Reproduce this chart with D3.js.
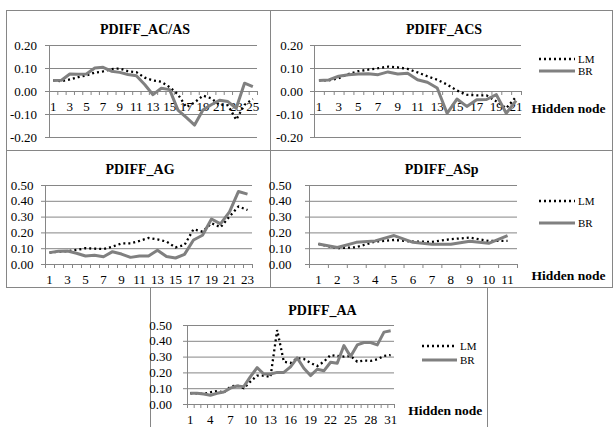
<!DOCTYPE html>
<html>
<head>
<meta charset="utf-8">
<script src="https://cdn.jsdelivr.net/npm/d3@7"></script>
<style>
  body { margin: 0; background: #fff; }
  svg { display: block; }
  text { font-family: "Liberation Serif", "Times New Roman", serif; }
</style>
</head>
<body>
<svg id="chart" width="613" height="427"></svg>
<script>
// ---- data ----
const seriesNames = ["LM", "BR"];

const nodesACAS = [1,2,3,4,5,6,7,8,9,10,11,12,13,14,15,16,17,18,19,20,21,22,23,24,25];
const labelsACAS = [1,3,5,7,9,11,13,15,17,19,21,23,25];
const lmACAS = [0.046,0.043,0.050,0.060,0.068,0.080,0.085,0.095,0.098,0.086,0.082,0.058,0.046,0.040,0.017,-0.015,-0.070,-0.050,-0.020,-0.032,-0.060,-0.062,-0.125,-0.060,-0.035];
const brACAS = [0.046,0.047,0.074,0.073,0.074,0.100,0.103,0.086,0.081,0.072,0.066,0.028,-0.016,0.012,0.006,-0.083,-0.115,-0.148,-0.083,-0.060,-0.040,-0.046,-0.075,0.034,0.019];

const nodesACS = [1,2,3,4,5,6,7,8,9,10,11,12,13,14,15,16,17,18,19,20,21];
const labelsACS = [1,3,5,7,9,11,13,15,17,19,21];
const lmACS = [0.046,0.046,0.055,0.074,0.086,0.093,0.099,0.106,0.103,0.096,0.081,0.064,0.049,0.028,0.002,-0.016,-0.019,-0.019,-0.045,-0.075,-0.025];
const brACS = [0.046,0.048,0.064,0.071,0.074,0.075,0.071,0.083,0.074,0.077,0.049,0.038,0.013,-0.097,-0.035,-0.067,-0.038,-0.037,-0.016,-0.097,-0.042];

const nodesAG = [1,2,3,4,5,6,7,8,9,10,11,12,13,14,15,16,17,18,19,20,21,22,23];
const labelsAG = [1,3,5,7,9,11,13,15,17,19,21,23];
const lmAG = [0.072,0.078,0.082,0.089,0.100,0.097,0.095,0.110,0.130,0.130,0.146,0.165,0.156,0.142,0.105,0.120,0.220,0.205,0.258,0.233,0.300,0.364,0.342];
const brAG = [0.072,0.080,0.082,0.068,0.051,0.055,0.046,0.078,0.063,0.042,0.051,0.051,0.087,0.047,0.038,0.061,0.152,0.182,0.285,0.254,0.330,0.459,0.442];

const nodesASp = [1,2,3,4,5,6,7,8,9,10,11];
const labelsASp = [1,2,3,4,5,6,7,8,9,10,11];
const lmASp = [0.127,0.100,0.106,0.142,0.152,0.142,0.140,0.157,0.167,0.146,0.146];
const brASp = [0.127,0.104,0.137,0.146,0.180,0.137,0.125,0.125,0.144,0.131,0.180];

const nodesAA = [1,2,3,4,5,6,7,8,9,10,11,12,13,14,15,16,17,18,19,20,21,22,23,24,25,26,27,28,29,30,31];
const labelsAA = [1,4,7,10,13,16,19,22,25,28,31];
const lmAA = [0.068,0.068,0.063,0.074,0.082,0.072,0.110,0.118,0.100,0.142,0.180,0.180,0.170,0.468,0.268,0.260,0.290,0.285,0.260,0.240,0.268,0.310,0.304,0.300,0.304,0.268,0.275,0.273,0.283,0.304,0.310];
const brAA = [0.068,0.068,0.063,0.055,0.068,0.076,0.100,0.114,0.110,0.173,0.230,0.190,0.190,0.200,0.200,0.235,0.292,0.226,0.180,0.220,0.210,0.264,0.258,0.370,0.300,0.374,0.389,0.389,0.374,0.455,0.463];

const yTicksSigned = [-0.2,-0.1,0,0.1,0.2];
const yTicksPositive = [0,0.1,0.2,0.3,0.4,0.5];
const axisTitle = "Hidden node";

// ---- layout ----
const panels = [
  { title: "PDIFF_AC/AS", nodes: nodesACAS, labels: labelsACAS, lm: lmACAS, br: brACAS, yTicks: yTicksSigned,
    box: [6, 10, 270, 150], plot: [49, 45, 257, 137], titleAt: [145, 29.3], yPad: 8 },
  { title: "PDIFF_ACS", nodes: nodesACS, labels: labelsACS, lm: lmACS, br: brACS, yTicks: yTicksSigned,
    box: [270, 10, 612, 150], plot: [314, 45, 521, 137], titleAt: [444, 29.3], yPad: 7,
    legend: { x0: 539, x1: 575, tx: 578, yLM: 59, yBR: 71 }, hidden: [531.5, 108.3] },
  { title: "PDIFF_AG", nodes: nodesAG, labels: labelsAG, lm: lmAG, br: brAG, yTicks: yTicksPositive,
    box: [6, 150, 270, 287], plot: [45, 185, 252, 264], titleAt: [140, 169], yPad: 7.5 },
  { title: "PDIFF_ASp", nodes: nodesASp, labels: labelsASp, lm: lmASp, br: brASp, yTicks: yTicksPositive,
    box: [270, 150, 612, 287], plot: [309, 185, 517, 264], titleAt: [441.7, 169], yPad: 13.5,
    legend: { x0: 539, x1: 575, tx: 578, yLM: 201, yBR: 223 }, hidden: [531.5, 275] },
  { title: "PDIFF_AA", nodes: nodesAA, labels: labelsAA, lm: lmAA, br: brAA, yTicks: yTicksPositive,
    box: [150, 287, 487, 440], plot: [187, 325, 394, 404], titleAt: [322.5, 310], yPad: 11,
    legend: { x0: 422, x1: 457, tx: 460, yLM: 346, yBR: 360 }, hidden: [408.3, 410] }
];

const FONT = '"Liberation Serif", "Times New Roman", serif';
const GRID = "#868686";
const BR_COLOR = "#808080";
const svg = d3.select("#chart");

function styleLM(sel) {
  return sel.attr("fill", "none").attr("stroke", "#000").attr("stroke-width", 2.3)
    .attr("stroke-dasharray", "2,3");
}
function styleBR(sel) {
  return sel.attr("fill", "none").attr("stroke", BR_COLOR).attr("stroke-width", 3)
    .attr("stroke-linejoin", "round");
}

function drawPanel(p) {
  const g = svg.append("g");
  const [bx0, by0, bx1, by1] = p.box;
  g.append("rect")
    .attr("x", bx0 + 0.5).attr("y", by0 + 0.5)
    .attr("width", bx1 - bx0).attr("height", by1 - by0)
    .attr("fill", "#fff").attr("stroke", GRID).attr("stroke-width", 1);

  const [px0, py0, px1, py1] = p.plot;
  const x = d3.scaleBand().domain(p.nodes).range([px0, px1]);
  const xEdges = d3.scaleLinear().domain([0, p.nodes.length]).range([px0, px1]);
  const y = d3.scaleLinear()
    .domain([p.yTicks[0], p.yTicks[p.yTicks.length - 1]])
    .range([py1, py0]);

  // horizontal gridlines
  g.append("g").attr("transform", `translate(${px0},0)`)
    .call(d3.axisLeft(y).tickValues(p.yTicks).tickSize(-(px1 - px0)).tickFormat(""))
    .call(s => s.select(".domain").remove())
    .selectAll("line").attr("stroke", GRID);

  // value axis
  g.append("g").attr("transform", `translate(${px0},0)`)
    .attr("color", GRID)
    .call(d3.axisLeft(y).tickValues(p.yTicks).tickSize(4).tickSizeOuter(0)
      .tickPadding(p.yPad).tickFormat(d => d.toFixed(2)))
    .call(s => s.selectAll("text").attr("fill", "#000")
      .attr("font-family", FONT).attr("font-size", 13));

  // category axis at zero, ticks between categories
  const y0 = y(0);
  g.append("g").attr("transform", `translate(0,${y0})`)
    .attr("color", GRID)
    .call(d3.axisBottom(xEdges).tickValues(d3.range(0, p.nodes.length + 1))
      .tickSize(4).tickSizeOuter(0).tickFormat(""));
  g.append("g").attr("transform", `translate(0,${y0})`)
    .call(d3.axisBottom(x).tickValues(p.labels).tickSize(0).tickPadding(11))
    .call(s => s.select(".domain").remove())
    .call(s => s.selectAll("text").attr("fill", "#000")
      .attr("font-family", FONT).attr("font-size", 13));

  // series
  const line = d3.line()
    .x((d, i) => x(p.nodes[i]) + x.bandwidth() / 2)
    .y(d => y(d));
  g.append("path").datum(p.lm).attr("d", line).call(styleLM);
  g.append("path").datum(p.br).attr("d", line).call(styleBR);

  // title
  g.append("text")
    .attr("x", p.titleAt[0]).attr("y", p.titleAt[1]).attr("dy", "0.35em")
    .attr("text-anchor", "middle").attr("font-weight", "bold").attr("font-size", 14)
    .attr("fill", "#000").text(p.title);

  // legend
  if (p.legend) {
    const L = p.legend;
    const items = [
      { name: seriesNames[0], y: L.yLM, style: styleLM },
      { name: seriesNames[1], y: L.yBR, style: styleBR }
    ];
    items.forEach(it => {
      g.append("line").attr("x1", L.x0).attr("x2", L.x1)
        .attr("y1", it.y).attr("y2", it.y).call(it.style);
      g.append("text").attr("x", L.tx).attr("y", it.y).attr("dy", "0.35em")
        .attr("font-size", 11).attr("fill", "#000").text(it.name);
    });
  }
  if (p.hidden) {
    g.append("text").attr("x", p.hidden[0]).attr("y", p.hidden[1]).attr("dy", "0.35em")
      .attr("font-weight", "bold").attr("font-size", 13.5).attr("fill", "#000")
      .text(axisTitle);
  }
}

panels.forEach(drawPanel);
</script>
</body>
</html>
